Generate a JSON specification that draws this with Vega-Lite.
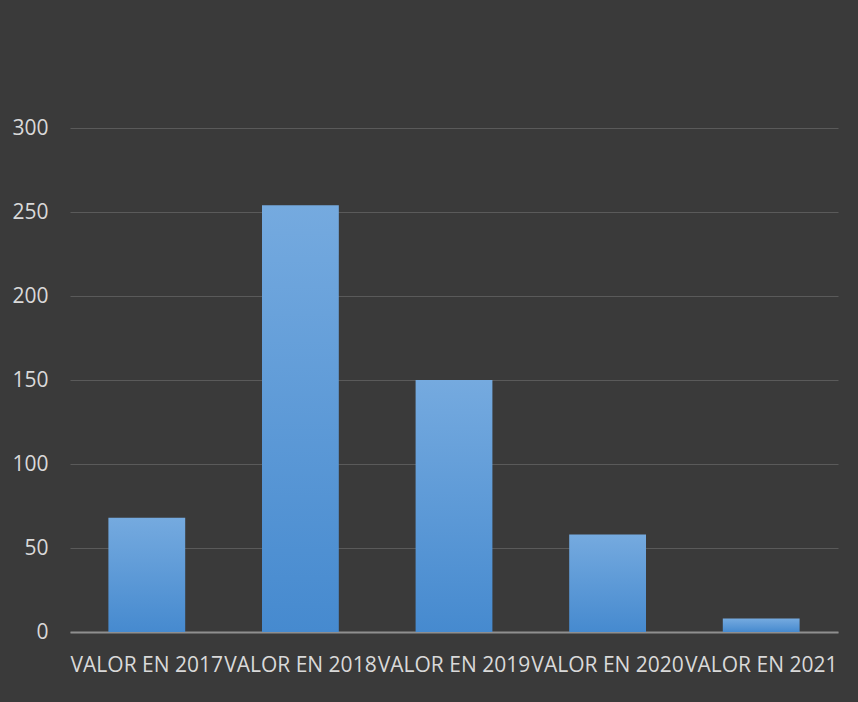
{
  "$schema": "https://vega.github.io/schema/vega-lite/v6.json",
  "width": 768,
  "height": 504,
  "autosize": {"type": "none"},
  "padding": {"left": 70, "top": 128, "right": 20, "bottom": 70},
  "background": "#3a3a3a",
  "config": {
    "view": {"stroke": null},
    "font": "Open Sans"
  },
  "data": {
    "values": [
      {"categoria": "VALOR EN 2017", "valor": 68},
      {"categoria": "VALOR EN 2018", "valor": 254},
      {"categoria": "VALOR EN 2019", "valor": 150},
      {"categoria": "VALOR EN 2020", "valor": 58},
      {"categoria": "VALOR EN 2021", "valor": 8}
    ]
  },
  "mark": {
    "type": "bar",
    "color": {
      "gradient": "linear",
      "x1": 0, "y1": 0, "x2": 0, "y2": 1,
      "stops": [
        {"offset": 0, "color": "#75aadf"},
        {"offset": 1, "color": "#468acf"}
      ]
    }
  },
  "encoding": {
    "x": {
      "field": "categoria",
      "type": "nominal",
      "sort": null,
      "scale": {"paddingInner": 0.5, "paddingOuter": 0.25},
      "axis": {
        "title": null,
        "labelAngle": 0,
        "labelFontSize": 21,
        "labelColor": "#d9d9d9",
        "labelPadding": 22,
        "ticks": false,
        "domainColor": "#8f8f8f",
        "domainWidth": 2,
        "labelOverlap": false,
        "labelLimit": 0
      }
    },
    "y": {
      "field": "valor",
      "type": "quantitative",
      "scale": {"domain": [0, 300], "nice": false},
      "axis": {
        "title": null,
        "values": [0, 50, 100, 150, 200, 250, 300],
        "labelFontSize": 21,
        "labelColor": "#d9d9d9",
        "labelPadding": 22,
        "ticks": false,
        "domain": false,
        "gridColor": "#5a5a5a",
        "gridWidth": 1.2
      }
    }
  }
}
